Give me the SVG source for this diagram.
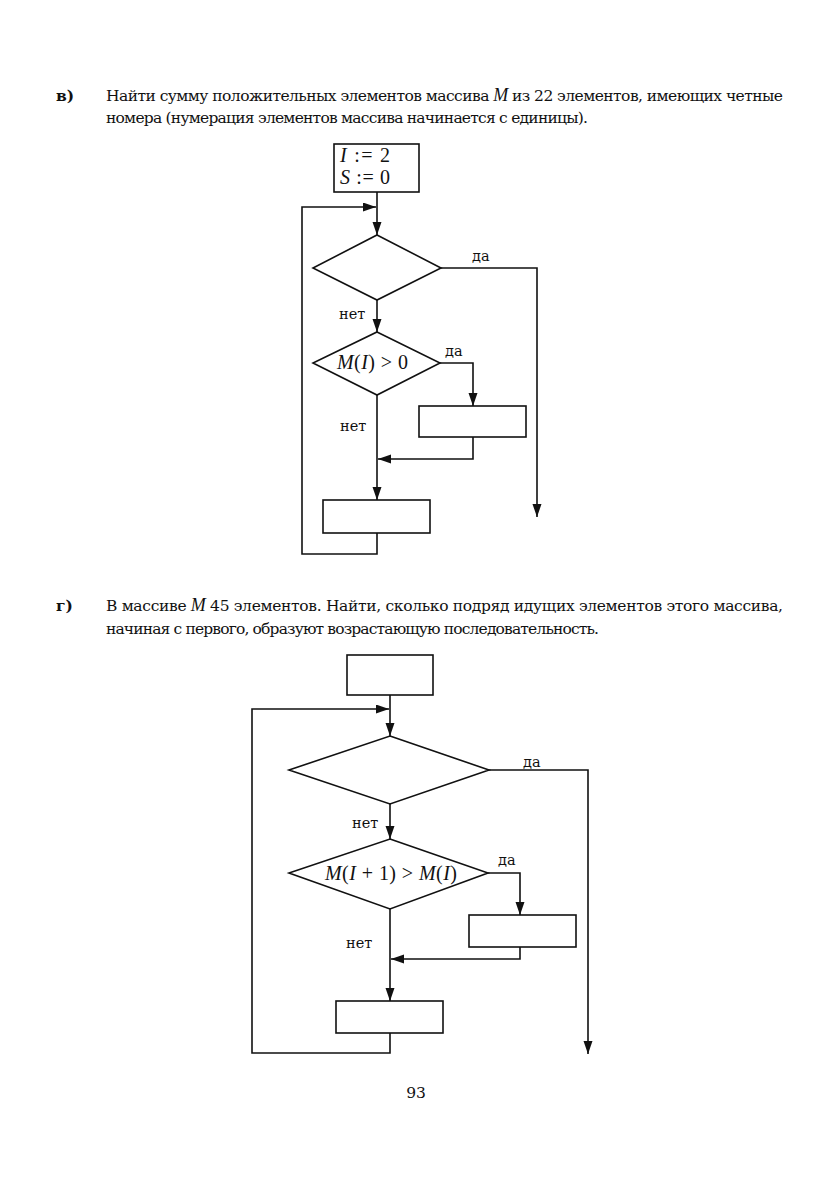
<svg xmlns="http://www.w3.org/2000/svg" width="826" height="1186" viewBox="0 0 826 1186">
<style>
.t{font-family:"DejaVu Serif","Liberation Serif",serif;font-size:15.5px;fill:#111}
.lbl{font-family:"DejaVu Serif","Liberation Serif",serif;font-size:15.5px;font-weight:bold;fill:#111}
.d{font-family:"Liberation Serif","Times New Roman",serif;font-size:20px;fill:#111}
.s{font-family:"DejaVu Serif","Liberation Serif",serif;font-size:14.5px;fill:#111}
.i{font-style:italic;font-family:"Liberation Serif","Times New Roman",serif}
.sh{fill:#fff;stroke:#111;stroke-width:1.6}
.c{fill:none;stroke:#111;stroke-width:1.6}
</style>
<defs>
<marker id="ah" markerUnits="userSpaceOnUse" markerWidth="14" markerHeight="10" refX="13" refY="4.5" orient="auto">
<path d="M0,0 L13,4.5 L0,9 z" fill="#111"/>
</marker>
</defs>
<rect width="826" height="1186" fill="#fff"/>

<g id="text-v">
<text class="lbl" x="56" y="101">в)</text>
<text class="t" x="106" y="101" textLength="677" lengthAdjust="spacing">Найти сумму положительных элементов массива <tspan class="i" font-size="18">M</tspan> из 22 элементов, имеющих четные</text>
<text class="t" x="106" y="123" textLength="482" lengthAdjust="spacing">номера (нумерация элементов массива начинается с единицы).</text>
</g>

<g id="v-connectors">
<path class="c" d="M377,192 L377,235" marker-end="url(#ah)"/>
<path class="c" d="M377,533 L377,554 L302,554 L302,207 L376,207" marker-end="url(#ah)"/>
<path class="c" d="M441,268 L537,268 L537,517" marker-end="url(#ah)"/>
<path class="c" d="M377,300 L377,332" marker-end="url(#ah)"/>
<path class="c" d="M440,363 L473,363 L473,406" marker-end="url(#ah)"/>
<path class="c" d="M473,437 L473,459 L378,459" marker-end="url(#ah)"/>
<path class="c" d="M377,395 L377,500" marker-end="url(#ah)"/>
<text class="s" x="472" y="261">да</text>
<text class="s" x="339" y="319">нет</text>
<text class="s" x="445" y="356">да</text>
<text class="s" x="340" y="431">нет</text>
</g>

<g id="v-init">
<rect class="sh" x="334" y="144" width="85" height="48"/>
<text class="d" x="340" y="162" textLength="50" lengthAdjust="spacing"><tspan class="i">I</tspan> := 2</text>
<text class="d" x="340" y="184" textLength="50" lengthAdjust="spacing"><tspan class="i">S</tspan> := 0</text>
</g>
<g id="v-cond1">
<polygon class="sh" points="377,235 441,268 377,300 313,268"/>
</g>
<g id="v-cond2">
<polygon class="sh" points="377,332 440,363 377,395 313,363"/>
<text class="d" x="337" y="369" textLength="71" lengthAdjust="spacing"><tspan class="i">M</tspan>(<tspan class="i">I</tspan>) &gt; 0</text>
</g>
<g id="v-box2">
<rect class="sh" x="419" y="406" width="107" height="31"/>
</g>
<g id="v-box3">
<rect class="sh" x="323" y="500" width="107" height="33"/>
</g>

<g id="text-g">
<text class="lbl" x="56" y="611">г)</text>
<text class="t" x="106" y="611" textLength="677" lengthAdjust="spacing">В массиве <tspan class="i" font-size="18">M</tspan> 45 элементов. Найти, сколько подряд идущих элементов этого массива,</text>
<text class="t" x="106" y="634" textLength="493" lengthAdjust="spacing">начиная с первого, образуют возрастающую последовательность.</text>
</g>

<g id="g-connectors">
<path class="c" d="M390,695 L390,736" marker-end="url(#ah)"/>
<path class="c" d="M390,1033 L390,1053 L252,1053 L252,709 L389,709" marker-end="url(#ah)"/>
<path class="c" d="M489,770 L588,770 L588,1054" marker-end="url(#ah)"/>
<path class="c" d="M390,804 L390,839" marker-end="url(#ah)"/>
<path class="c" d="M488,873 L520,873 L520,915" marker-end="url(#ah)"/>
<path class="c" d="M520,947 L520,959 L391,959" marker-end="url(#ah)"/>
<path class="c" d="M390,909 L390,1001" marker-end="url(#ah)"/>
<text class="s" x="523" y="767">да</text>
<text class="s" x="352" y="828">нет</text>
<text class="s" x="498" y="865">да</text>
<text class="s" x="346" y="948">нет</text>
</g>

<g id="g-init">
<rect class="sh" x="347" y="655" width="86" height="40"/>
</g>
<g id="g-cond1">
<polygon class="sh" points="390,736 489,770 390,804 289,770"/>
</g>
<g id="g-cond2">
<polygon class="sh" points="390,839 488,873 390,909 289,873"/>
<text class="d" x="325" y="880" textLength="132" lengthAdjust="spacing"><tspan class="i">M</tspan>(<tspan class="i">I</tspan> + 1) &gt; <tspan class="i">M</tspan>(<tspan class="i">I</tspan>)</text>
</g>
<g id="g-box2">
<rect class="sh" x="469" y="915" width="107" height="32"/>
</g>
<g id="g-box3">
<rect class="sh" x="336" y="1001" width="107" height="32"/>
</g>

<g id="page">
<text class="t" x="416" y="1098" text-anchor="middle">93</text>
</g>
</svg>
